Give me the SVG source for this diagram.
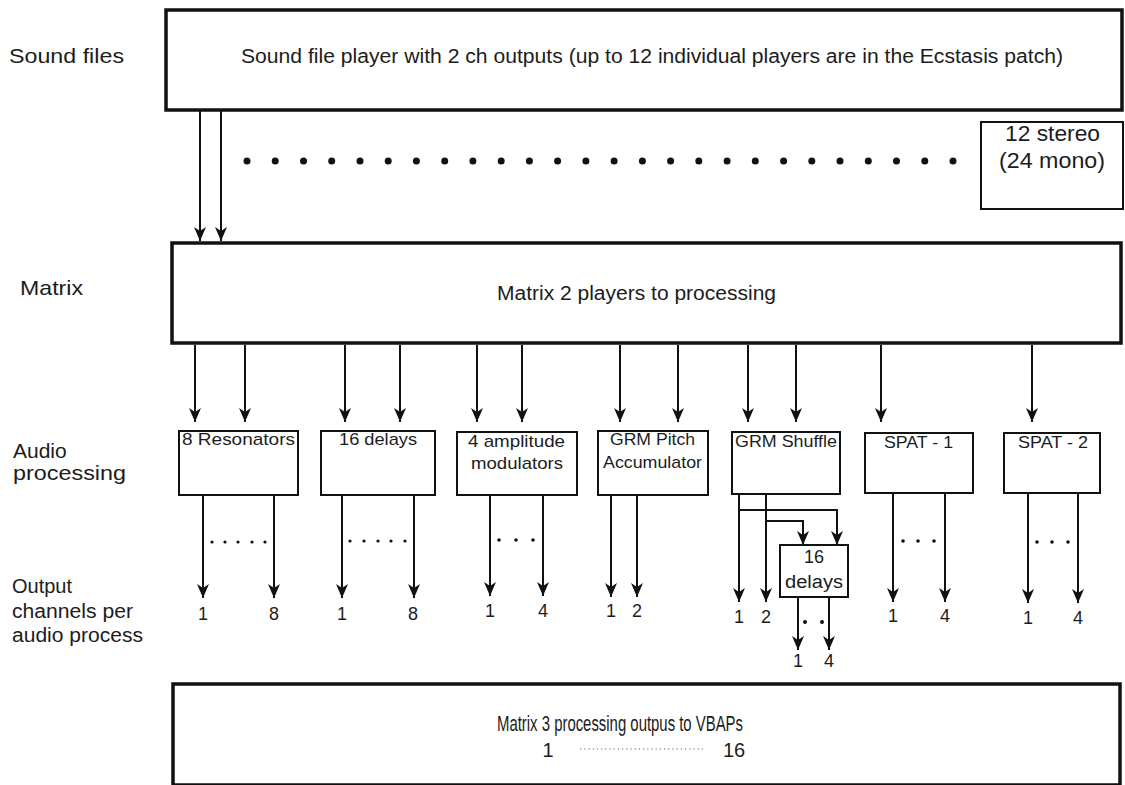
<svg xmlns="http://www.w3.org/2000/svg" width="1125" height="785" viewBox="0 0 1125 785">
  <defs>
    <marker id="arrow" markerWidth="14" markerHeight="12" refX="14" refY="6" orient="auto" markerUnits="userSpaceOnUse" viewBox="0 0 14 12">
      <path d="M0,0 L14,6 L0,12 L4,6 Z" fill="#111"/>
    </marker>
    <style>
      text { font-family: "Liberation Sans", Arial, sans-serif; fill: #1c1c1c; }
      .lbl { font-size: 21px; }
      .big { font-size: 20px; }
      .huge { font-size: 22px; }
      .box { font-size: 17px; }
      .box18 { font-size: 18px; }
      .num { font-size: 18px; text-anchor: middle; }
      .mid { text-anchor: middle; }
      .frame { fill: #fff; stroke: #111; stroke-width: 3.5; }
      .node { fill: #fff; stroke: #111; stroke-width: 2; }
      .arr { fill: none; stroke: #111; stroke-width: 2; marker-end: url(#arrow); }
      .dot { fill: #111; }
    </style>
  </defs>

  <rect width="1125" height="785" fill="#fff"/>

  <!-- row captions -->
  <g id="captions">
    <text class="lbl" x="9" y="63" textLength="115" lengthAdjust="spacingAndGlyphs">Sound files</text>
    <text class="lbl" x="20" y="295" textLength="63" lengthAdjust="spacingAndGlyphs">Matrix</text>
    <text class="lbl" x="13" y="458">Audio</text>
    <text class="lbl" x="13" y="480" textLength="113" lengthAdjust="spacingAndGlyphs">processing</text>
    <text class="big" x="12" y="593">Output</text>
    <text class="big" x="12" y="618" textLength="121" lengthAdjust="spacingAndGlyphs">channels per</text>
    <text class="big" x="12" y="642" textLength="131" lengthAdjust="spacingAndGlyphs">audio process</text>
  </g>

  <!-- sound file player -->
  <g id="player">
    <rect class="frame" x="166" y="10" width="956" height="100"/>
    <text class="big" x="241" y="63" textLength="822" lengthAdjust="spacingAndGlyphs">Sound file player with 2 ch outputs (up to 12 individual players are in the Ecstasis patch)</text>
  </g>

  <!-- player count -->
  <g id="stereo-count">
    <rect class="node" x="981" y="122" width="142" height="87"/>
    <text class="huge" x="1005" y="141" textLength="95" lengthAdjust="spacingAndGlyphs">12 stereo</text>
    <text class="huge" x="999" y="168" textLength="106" lengthAdjust="spacingAndGlyphs">(24 mono)</text>
  </g>

  <!-- matrix 2 -->
  <g id="matrix2">
    <rect class="frame" x="172" y="243" width="949" height="100"/>
    <text class="big" x="497" y="300" textLength="279" lengthAdjust="spacingAndGlyphs">Matrix 2 players to processing</text>
  </g>

  <!-- processing modules -->
  <g id="resonators">
    <rect class="node" x="179" y="431" width="119" height="64"/>
    <text class="box" x="182" y="445" textLength="113" lengthAdjust="spacingAndGlyphs">8 Resonators</text>
  </g>
  <g id="delays16">
    <rect class="node" x="321" y="431" width="114" height="64"/>
    <text class="box" x="339" y="445" textLength="78" lengthAdjust="spacingAndGlyphs">16 delays</text>
  </g>
  <g id="amp-mod">
    <rect class="node" x="457" y="432" width="120" height="63"/>
    <text class="box" x="468" y="447" textLength="97" lengthAdjust="spacingAndGlyphs">4 amplitude</text>
    <text class="box" x="471" y="469" textLength="92" lengthAdjust="spacingAndGlyphs">modulators</text>
  </g>
  <g id="pitch-acc">
    <rect class="node" x="598" y="431" width="110" height="64"/>
    <text class="box" x="610" y="445" textLength="85" lengthAdjust="spacingAndGlyphs">GRM Pitch</text>
    <text class="box" x="603" y="468" textLength="99" lengthAdjust="spacingAndGlyphs">Accumulator</text>
  </g>
  <g id="shuffle">
    <rect class="node" x="732" y="432" width="108" height="62"/>
    <text class="box" x="735" y="447" textLength="102" lengthAdjust="spacingAndGlyphs">GRM Shuffle</text>
  </g>
  <g id="spat1">
    <rect class="node" x="865" y="433" width="108" height="60"/>
    <text class="box" x="884" y="448" textLength="69" lengthAdjust="spacingAndGlyphs">SPAT - 1</text>
  </g>
  <g id="spat2">
    <rect class="node" x="1004" y="433" width="96" height="60"/>
    <text class="box" x="1018" y="448" textLength="70" lengthAdjust="spacingAndGlyphs">SPAT - 2</text>
  </g>
  <g id="shuffle-delays">
    <rect class="node" x="780" y="545" width="68" height="52"/>
    <text class="box18 mid" x="814" y="563">16</text>
    <text class="box18" x="785" y="588" textLength="58" lengthAdjust="spacingAndGlyphs">delays</text>
  </g>

  <!-- matrix 3 -->
  <g id="matrix3">
    <rect class="frame" x="173" y="684" width="947" height="101"/>
    <text class="huge" x="497" y="731" textLength="246" lengthAdjust="spacingAndGlyphs">Matrix 3 processing outpus to VBAPs</text>
    <text class="big mid" x="548" y="757">1</text>
    <line x1="580" y1="749" x2="703" y2="749" stroke="#666" stroke-width="1.2" stroke-dasharray="1.2 3"/>
    <text class="big mid" x="734" y="757">16</text>
  </g>

  <!-- connectors -->
  <g id="connectors">
    <!-- player to matrix 2 -->
    <line class="arr" x1="200" y1="110" x2="200" y2="241"/>
    <line class="arr" x1="221" y1="110" x2="221" y2="241"/>

    <!-- matrix 2 to modules -->
    <line class="arr" x1="195" y1="345" x2="195" y2="422"/>
    <line class="arr" x1="245" y1="345" x2="245" y2="422"/>
    <line class="arr" x1="345" y1="345" x2="345" y2="422"/>
    <line class="arr" x1="400" y1="345" x2="400" y2="422"/>
    <line class="arr" x1="477" y1="345" x2="477" y2="422"/>
    <line class="arr" x1="522" y1="345" x2="522" y2="422"/>
    <line class="arr" x1="620" y1="345" x2="620" y2="422"/>
    <line class="arr" x1="678" y1="345" x2="678" y2="422"/>
    <line class="arr" x1="748" y1="345" x2="748" y2="422"/>
    <line class="arr" x1="796" y1="345" x2="796" y2="422"/>
    <line class="arr" x1="881" y1="345" x2="881" y2="422"/>
    <line class="arr" x1="1032" y1="345" x2="1032" y2="422"/>

    <!-- module outputs -->
    <line class="arr" x1="203" y1="495" x2="203" y2="598"/>
    <line class="arr" x1="274" y1="495" x2="274" y2="598"/>
    <line class="arr" x1="342" y1="495" x2="342" y2="598"/>
    <line class="arr" x1="414" y1="495" x2="414" y2="598"/>
    <line class="arr" x1="490" y1="495" x2="490" y2="596"/>
    <line class="arr" x1="543" y1="495" x2="543" y2="596"/>
    <line class="arr" x1="611" y1="495" x2="611" y2="597"/>
    <line class="arr" x1="637" y1="495" x2="637" y2="597"/>
    <line class="arr" x1="739" y1="494" x2="739" y2="602"/>
    <line class="arr" x1="766" y1="494" x2="766" y2="602"/>
    <line class="arr" x1="893" y1="493" x2="893" y2="602"/>
    <line class="arr" x1="945" y1="493" x2="945" y2="602"/>
    <line class="arr" x1="1028" y1="493" x2="1028" y2="603"/>
    <line class="arr" x1="1078" y1="493" x2="1078" y2="603"/>

    <!-- shuffle outputs branched into the delay line -->
    <polyline class="arr" points="739,510 837,510 837,545"/>
    <polyline class="arr" points="766,521 803,521 803,545"/>

    <!-- delay line outputs -->
    <line class="arr" x1="798" y1="597" x2="798" y2="650"/>
    <line class="arr" x1="829" y1="597" x2="829" y2="650"/>
  </g>

  <!-- player ellipsis -->
  <g id="player-dots" class="dot">
    <circle cx="247" cy="161" r="3.5"/><circle cx="275.2" cy="161" r="3.5"/><circle cx="303.5" cy="161" r="3.5"/>
    <circle cx="331.7" cy="161" r="3.5"/><circle cx="360" cy="161" r="3.5"/><circle cx="388.2" cy="161" r="3.5"/>
    <circle cx="416.4" cy="161" r="3.5"/><circle cx="444.7" cy="161" r="3.5"/><circle cx="472.9" cy="161" r="3.5"/>
    <circle cx="501.2" cy="161" r="3.5"/><circle cx="529.4" cy="161" r="3.5"/><circle cx="557.6" cy="161" r="3.5"/>
    <circle cx="585.9" cy="161" r="3.5"/><circle cx="614.1" cy="161" r="3.5"/><circle cx="642.4" cy="161" r="3.5"/>
    <circle cx="670.6" cy="161" r="3.5"/><circle cx="698.8" cy="161" r="3.5"/><circle cx="727.1" cy="161" r="3.5"/>
    <circle cx="755.3" cy="161" r="3.5"/><circle cx="783.6" cy="161" r="3.5"/><circle cx="811.8" cy="161" r="3.5"/>
    <circle cx="840" cy="161" r="3.5"/><circle cx="868.3" cy="161" r="3.5"/><circle cx="896.5" cy="161" r="3.5"/>
    <circle cx="924.8" cy="161" r="3.5"/><circle cx="953" cy="161" r="3.5"/>
  </g>

  <!-- channel ellipses -->
  <g id="channel-dots" class="dot">
    <circle cx="212" cy="542" r="1.6"/><circle cx="225" cy="542" r="1.6"/><circle cx="238" cy="542" r="1.6"/><circle cx="252" cy="542" r="1.6"/><circle cx="265" cy="542" r="1.6"/>
    <circle cx="350" cy="541" r="1.6"/><circle cx="364" cy="541" r="1.6"/><circle cx="378" cy="541" r="1.6"/><circle cx="391" cy="541" r="1.6"/><circle cx="405" cy="541" r="1.6"/>
    <circle cx="499" cy="540" r="1.8"/><circle cx="516" cy="540" r="1.8"/><circle cx="533" cy="540" r="1.8"/>
    <circle cx="903" cy="541" r="1.8"/><circle cx="918" cy="541" r="1.8"/><circle cx="934" cy="541" r="1.8"/>
    <circle cx="1037" cy="542" r="1.8"/><circle cx="1052" cy="542" r="1.8"/><circle cx="1068" cy="542" r="1.8"/>
    <circle cx="805" cy="622" r="2"/><circle cx="822" cy="622" r="2"/>
  </g>

  <!-- channel numbers -->
  <g id="channel-numbers">
    <text class="num" x="203" y="620">1</text><text class="num" x="274" y="620">8</text>
    <text class="num" x="342" y="620">1</text><text class="num" x="413" y="620">8</text>
    <text class="num" x="490" y="617">1</text><text class="num" x="543" y="617">4</text>
    <text class="num" x="611" y="617">1</text><text class="num" x="637" y="617">2</text>
    <text class="num" x="739" y="623">1</text><text class="num" x="766" y="623">2</text>
    <text class="num" x="798" y="667">1</text><text class="num" x="829" y="667">4</text>
    <text class="num" x="893" y="622">1</text><text class="num" x="945" y="622">4</text>
    <text class="num" x="1028" y="624">1</text><text class="num" x="1078" y="624">4</text>
  </g>
</svg>
